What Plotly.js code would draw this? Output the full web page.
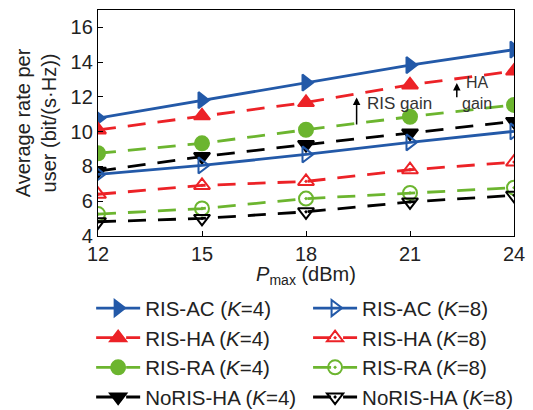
<!DOCTYPE html>
<html><head><meta charset="utf-8">
<script src="https://cdn.plot.ly/plotly-3.0.1.min.js"></script>
<style>html,body{margin:0;padding:0;background:#fff}#c{width:533px;height:410px}</style>
</head><body><div id="c"></div>
<script>
const pmax = [12, 15, 18, 21, 24];
const acK4 = [10.78, 11.81, 12.82, 13.83, 14.72];
const acK8 = [7.54, 8.06, 8.69, 9.39, 10.02];
const haK4 = [10.1, 10.91, 11.68, 12.69, 13.49];
const haK8 = [6.4, 6.91, 7.14, 7.81, 8.25];
const raK4 = [8.76, 9.33, 10.11, 10.86, 11.54];
const raK8 = [5.26, 5.58, 6.15, 6.48, 6.78];
const noK4 = [7.73, 8.57, 9.26, 9.92, 10.59];
const noK8 = [4.82, 5.01, 5.39, 5.96, 6.34];
const names = ['RIS-AC (<i>K</i>=4)','RIS-AC (<i>K</i>=8)','RIS-HA (<i>K</i>=4)','RIS-HA (<i>K</i>=8)',
               'RIS-RA (<i>K</i>=4)','RIS-RA (<i>K</i>=8)','NoRIS-HA (<i>K</i>=4)','NoRIS-HA (<i>K</i>=8)'];
const xTicks = [12, 15, 18, 21, 24];
const yTicks = [4, 6, 8, 10, 12, 14, 16];

const BLUE = '#2359a8', RED = '#ec2227', GREEN = '#6cb52f', BLACK = '#000000';
const dash = '18px,12px';
function tr(y, name, color, sym, isDash, leg){
  return {x: pmax, y: y, name: name, type: 'scatter', mode: 'lines+markers', legend: leg,
    line: {color: color, width: 2.8, dash: isDash ? dash : 'solid'},
    marker: {symbol: sym, size: 14, color: color, line: {color: color, width: 2}}};
}
const data = [
  tr(acK4, names[0], BLUE, 'triangle-right', false, 'legend'),
  tr(haK4, names[2], RED, 'triangle-up', true, 'legend'),
  tr(raK4, names[4], GREEN, 'circle', true, 'legend'),
  tr(noK4, names[6], BLACK, 'triangle-down', true, 'legend'),
  tr(acK8, names[1], BLUE, 'triangle-right-open', false, 'legend2'),
  tr(haK8, names[3], RED, 'triangle-up-open-dot', true, 'legend2'),
  tr(raK8, names[5], GREEN, 'circle-open-dot', true, 'legend2'),
  tr(noK8, names[7], BLACK, 'triangle-down-open-dot', true, 'legend2')
];
const F = 'Liberation Sans, Arial, sans-serif';
const legBase = {orientation: 'h', xref: 'container', yref: 'container', xanchor: 'left', yanchor: 'top',
  y: 0.297, itemwidth: 44, entrywidth: 200, entrywidthmode: 'pixels',
  font: {family: F, size: 20.5, color: '#222'}, bgcolor: 'rgba(0,0,0,0)'};
const layout = {
  width: 533, height: 410,
  margin: {l: 98, r: 19, t: 10, b: 174},
  paper_bgcolor: '#fff', plot_bgcolor: '#fff',
  font: {family: F, size: 20, color: '#222'},
  showlegend: true,
  legend: Object.assign({}, legBase, {x: 0.171}),
  legend2: Object.assign({}, legBase, {x: 0.578}),
  xaxis: {range: [12, 24], tickvals: xTicks, ticks: 'inside', ticklen: 5, tickcolor: '#000',
    showline: true, linecolor: '#000', linewidth: 1.2, mirror: true, showgrid: false, zeroline: false,
    tickfont: {family: F, size: 20, color: '#222'},
    title: {text: '<i>P</i><sub>max</sub> (dBm)', font: {family: F, size: 20, color: '#222'}, standoff: 9}},
  yaxis: {range: [4, 17], tickvals: yTicks, ticks: 'inside', ticklen: 5, tickcolor: '#000',
    showline: true, linecolor: '#000', linewidth: 1.2, mirror: true, showgrid: false, zeroline: false,
    tickfont: {family: F, size: 20, color: '#222'},
    title: {text: 'Average rate per<br>user (bit/(s·Hz))', font: {family: F, size: 20, color: '#222'}, standoff: 8}},
  annotations: [
    {x: 19.46, y: 11.96, ax: 19.46, ay: 9.7, xref: 'x', yref: 'y', axref: 'x', ayref: 'y',
     showarrow: true, arrowhead: 2, arrowsize: 1, arrowwidth: 1.5, arrowcolor: '#000', text: ' '},
    {x: 19.7, y: 11.6, xref: 'x', yref: 'y', xanchor: 'left', showarrow: false,
     text: 'RIS gain', font: {family: F, size: 17, color: '#333'}},
    {x: 22.35, y: 12.8, ax: 22.35, ay: 11.26, xref: 'x', yref: 'y', axref: 'x', ayref: 'y',
     showarrow: true, arrowhead: 2, arrowsize: 1, arrowwidth: 1.5, arrowcolor: '#000', text: ' '},
    {x: 22.45, y: 12.2, xref: 'x', yref: 'y', xanchor: 'left', showarrow: false,
     text: 'HA<br>gain', font: {family: F, size: 16, color: '#333'}}
  ]
};
Plotly.newPlot('c', data, layout, {displayModeBar: false, staticPlot: true});
</script></body></html>
